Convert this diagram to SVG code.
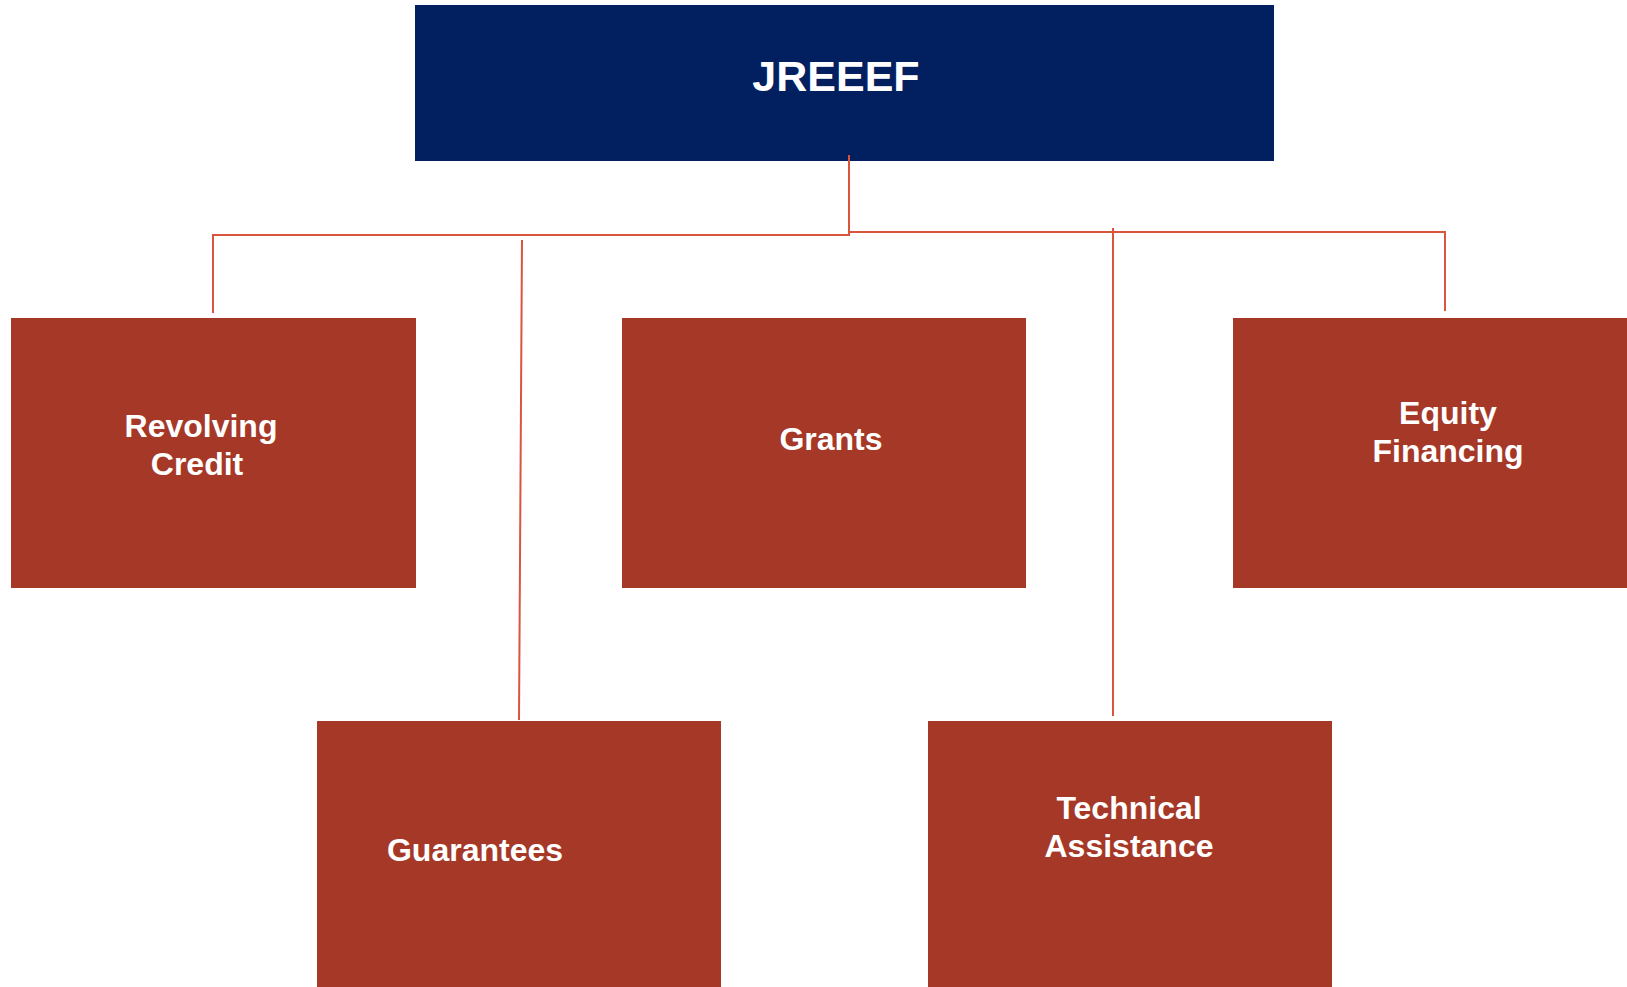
<svg xmlns="http://www.w3.org/2000/svg" width="1627" height="987" viewBox="0 0 1627 987">
  <style>
    .top { fill: #022060; }
    .box { fill: #A63827; }
    .lbl { font-family: "Liberation Sans", Arial, sans-serif; font-weight: bold; fill: #FFFFFF; text-anchor: middle; font-size: 32px; }
    .title { font-size: 43px; }
    .link { stroke: #D9553E; stroke-width: 2; fill: none; }
  </style>
  <rect width="1627" height="987" fill="#FFFFFF"/>

  <g id="jreeef">
    <rect class="top" x="415" y="5" width="859" height="156"/>
    <text class="lbl title" x="836" y="91">JREEEF</text>
  </g>

  <g id="revolving-credit">
    <rect class="box" x="11" y="318" width="405" height="270"/>
    <text class="lbl" x="201" y="437">Revolving</text>
    <text class="lbl" x="197" y="475">Credit</text>
  </g>

  <g id="grants">
    <rect class="box" x="622" y="318" width="404" height="270"/>
    <text class="lbl" x="831" y="450">Grants</text>
  </g>

  <g id="equity-financing">
    <rect class="box" x="1233" y="318" width="394" height="270"/>
    <text class="lbl" x="1448" y="424">Equity</text>
    <text class="lbl" x="1448" y="462">Financing</text>
  </g>

  <g id="guarantees">
    <rect class="box" x="317" y="721" width="404" height="266"/>
    <text class="lbl" x="475" y="861">Guarantees</text>
  </g>

  <g id="technical-assistance">
    <rect class="box" x="928" y="721" width="404" height="266"/>
    <text class="lbl" x="1129" y="819">Technical</text>
    <text class="lbl" x="1129" y="857">Assistance</text>
  </g>

  <!-- connectors, drawn over the boxes -->
  <g id="connectors">
    <polyline class="link" points="849,155 849,235 213,235 213,313"/>
    <polyline class="link" points="849,232 1445,232 1445,311"/>
    <line class="link" x1="522" y1="240" x2="519" y2="720"/>
    <line class="link" x1="1113" y1="228" x2="1113" y2="716"/>
  </g>
</svg>
